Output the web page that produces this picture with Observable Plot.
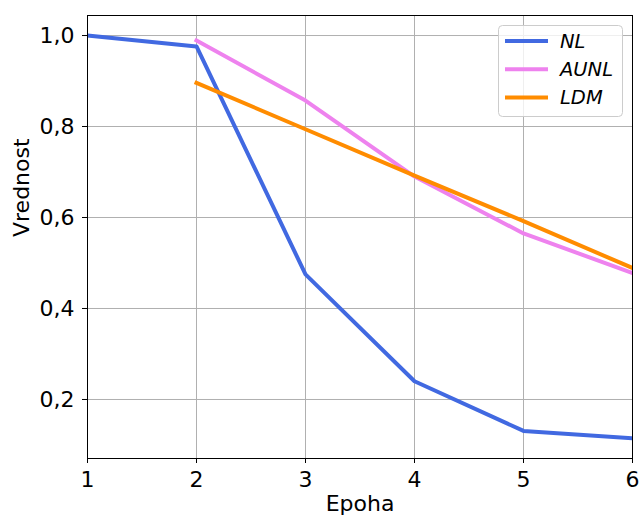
<!DOCTYPE html>
<html><head><meta charset="utf-8">
<script src="https://cdn.jsdelivr.net/npm/d3@7"></script>
<script src="https://cdn.jsdelivr.net/npm/@observablehq/plot@0.6"></script>
<style>body{margin:0;background:#fff} #chart{position:relative;width:640px;height:519px}</style>
</head><body><div id="chart"></div>
<script>
const nlEpochs = [1, 2, 3, 4, 5, 6];
const nlValues = [1.0, 0.976, 0.475, 0.240, 0.131, 0.115];
const aunlEpochs = [2, 3, 4, 5, 6];
const aunlValues = [0.989, 0.857, 0.690, 0.565, 0.478];
const ldmEpochs = [2, 3, 4, 5, 6];
const ldmValues = [0.896, 0.794, 0.692, 0.592, 0.489];
const seriesNames = ["NL", "AUNL", "LDM"];
const seriesColors = ["#4169e1", "#ee82ee", "#ff8c00"];
const xTicks = [1, 2, 3, 4, 5, 6];
const yTicks = [0.2, 0.4, 0.6, 0.8, 1.0];
const xLabel = "Epoha";
const yLabel = "Vrednost";

const rows = [];
[[nlEpochs, nlValues], [aunlEpochs, aunlValues], [ldmEpochs, ldmValues]].forEach(([ep, vals], i) => {
  ep.forEach((e, j) => rows.push({series: seriesNames[i], epoch: e, value: vals[j]}));
});

const fmt = d => d.toFixed(1).replace(".", ",");

const plot = Plot.plot({
  width: 640, height: 519,
  marginLeft: 87, marginRight: 8, marginTop: 15, marginBottom: 61,
  style: {fontFamily: "DejaVu Sans", fontSize: "22px", color: "black", background: "white"},
  x: {domain: [1, 6]},
  y: {domain: [0.0703, 1.044]},
  color: {domain: seriesNames, range: seriesColors},
  marks: [
    Plot.gridX({ticks: xTicks, stroke: "#b0b0b0", strokeOpacity: 1, strokeWidth: 1}),
    Plot.gridY({ticks: yTicks, stroke: "#b0b0b0", strokeOpacity: 1, strokeWidth: 1}),
    Plot.line(rows, {x: "epoch", y: "value", z: "series", stroke: "series", strokeWidth: 4,
      strokeLinecap: "square", strokeLinejoin: "round", clip: true}),
    Plot.frame({stroke: "black", strokeWidth: 1}),
    Plot.axisX({ticks: xTicks, tickSize: 5, tickPadding: 8, tickFormat: d => String(d), label: null, fill: "black"}),
    Plot.axisY({ticks: yTicks, tickSize: 5, tickPadding: 8, tickFormat: fmt, label: null, fill: "black"}),
    Plot.text([xLabel], {text: d => d, frameAnchor: "bottom", dy: 52, lineAnchor: "bottom", fill: "black"}),
    Plot.text([yLabel], {text: d => d, frameAnchor: "left", dx: -59, rotate: -90, lineAnchor: "bottom", fill: "black"})
  ]
});
document.getElementById("chart").appendChild(plot);

// legend
const svg = d3.select(plot);
const lg = svg.append("g").attr("font-family", "DejaVu Sans").attr("font-size", 19.5)
  .attr("font-style", "italic").attr("text-anchor", "start");
lg.append("rect").attr("x", 498.5).attr("y", 25.5).attr("width", 124).attr("height", 91).attr("rx", 4)
  .attr("fill", "white").attr("fill-opacity", 0.8).attr("stroke", "#cccccc");
seriesNames.forEach((name, i) => {
  const y = 41 + i * 28.3;
  lg.append("line").attr("x1", 505).attr("x2", 548).attr("y1", y).attr("y2", y)
    .attr("stroke", seriesColors[i]).attr("stroke-width", 4);
  lg.append("text").attr("x", 560).attr("y", y).attr("dy", "0.35em").attr("fill", "black").text(name);
});
</script></body></html>
